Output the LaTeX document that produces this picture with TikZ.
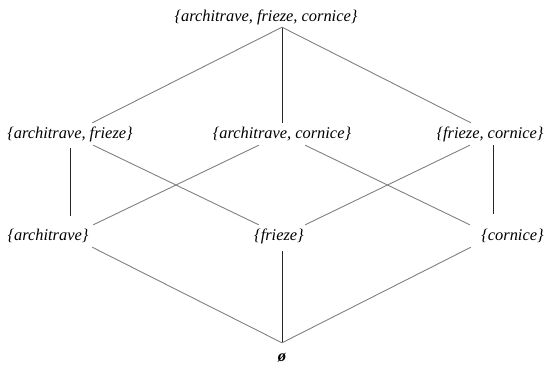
\documentclass[tikz,border=0pt]{standalone}
\usepackage{fontspec}
\setmainfont{Liberation Serif}
\begin{document}
\begin{tikzpicture}[x=1pt,y=-1pt,
  lbl/.style={inner sep=0pt, minimum height=22pt, font=\fontsize{16.4}{18}\selectfont\itshape},
  diag/.style={draw=black!50, line width=0.9pt},
  vert/.style={draw=black!85, line width=1pt}]
\useasboundingbox (0,0) rectangle (545,368);
\node[lbl, minimum height=20pt] (T) at (282,17) {\{architrave, frieze, cornice\}\kern32pt\null};
\node[lbl] (AF) at (70,134) {\{architrave, frieze\}};
\node[lbl] (AC) at (282,134) {\{architrave, cornice\}};
\node[lbl] (FC) at (493,134) {\{frieze, cornice\}\kern6pt\null};
\node[lbl] (A) at (70,236) {\{architrave\}\kern44pt\null};
\node[lbl] (F) at (282,236) {\{frieze\}\kern6pt\null};
\node[lbl] (C) at (493,236) {\kern39pt\{cornice\}};
\node[lbl, minimum height=30pt, font=\fontsize{16.4}{18}\selectfont\bfseries\itshape] (E) at (282,358) {ø};
\draw[diag] (T.south) -- (AF);
\draw[vert] (T.south) -- (AC);
\draw[diag] (T.south) -- (FC);
\draw[vert, shorten <=3pt, shorten >=9pt] (AF) -- (A);
\draw[diag] (AF) -- (F);
\draw[diag] (AC) -- (A);
\draw[diag] (AC) -- (C);
\draw[diag] (FC) -- (F);
\draw[vert, shorten >=11pt] (FC) -- (C);
\draw[diag] (A) -- (E.north);
\draw[vert, shorten <=4pt] (F) -- (E.north);
\draw[diag] (C) -- (E.north);
\end{tikzpicture}
\end{document}
